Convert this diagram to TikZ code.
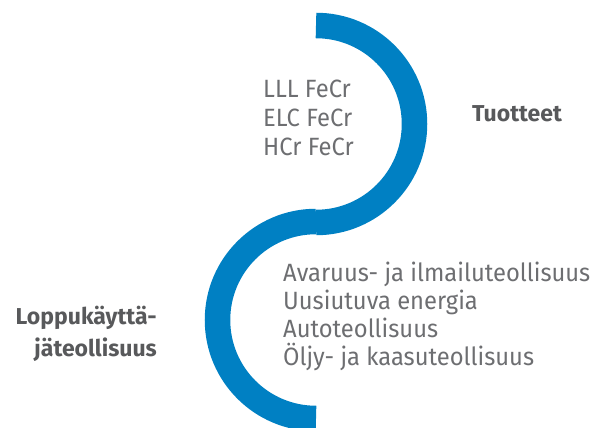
\documentclass[tikz,border=0pt]{standalone}
\usepackage{fontspec}
\setmainfont{Fira Sans}
\newfontfamily\itemfont{Fira Sans}[FakeStretch=0.95]
\definecolor{arcblue}{RGB}{0,128,195}
\definecolor{txtgray}{RGB}{109,110,113}
\definecolor{boldgray}{RGB}{88,89,91}
\begin{document}
\begin{tikzpicture}[x=1pt,y=1pt,
  band/.style={draw=arcblue,line width=25.5pt,line cap=butt},
  item/.style={inner sep=0pt,anchor=base west,text=txtgray,font=\itemfont\fontsize{25}{29}\selectfont},
  head/.style={inner sep=0pt,text=boldgray,font=\fontsize{23}{28}\selectfont\bfseries}]
\useasboundingbox (0,0) rectangle (594,428);
% top half ring (curves right), centre (316,304)
\draw[band] (316,402.5) arc[start angle=90,end angle=-90,radius=98.5];
% bottom half ring (curves left), centre (316,108)
\draw[band] (316,206.5) arc[start angle=90,end angle=270,radius=98.5];
% products
\node[item] (p1) at (263,330) {LLL FeCr};
\node[item] (p2) at (263,301) {ELC FeCr};
\node[item] (p3) at (263,272) {HCr FeCr};
\node[head,anchor=base west] (tuo) at (472,306) {Tuotteet};
% industries
\node[item] (i1) at (283,146) {Avaruus- ja ilmailuteollisuus};
\node[item] (i2) at (283,118) {Uusiutuva energia};
\node[item] (i3) at (283,90) {Autoteollisuus};
\node[item] (i4) at (283,62) {Öljy- ja kaasuteollisuus};
\node[head,anchor=base east] (lk1) at (157,103) {Loppukäyttä-};
\node[head,anchor=base east] (lk2) at (157,71) {jäteollisuus};
\end{tikzpicture}
\end{document}
